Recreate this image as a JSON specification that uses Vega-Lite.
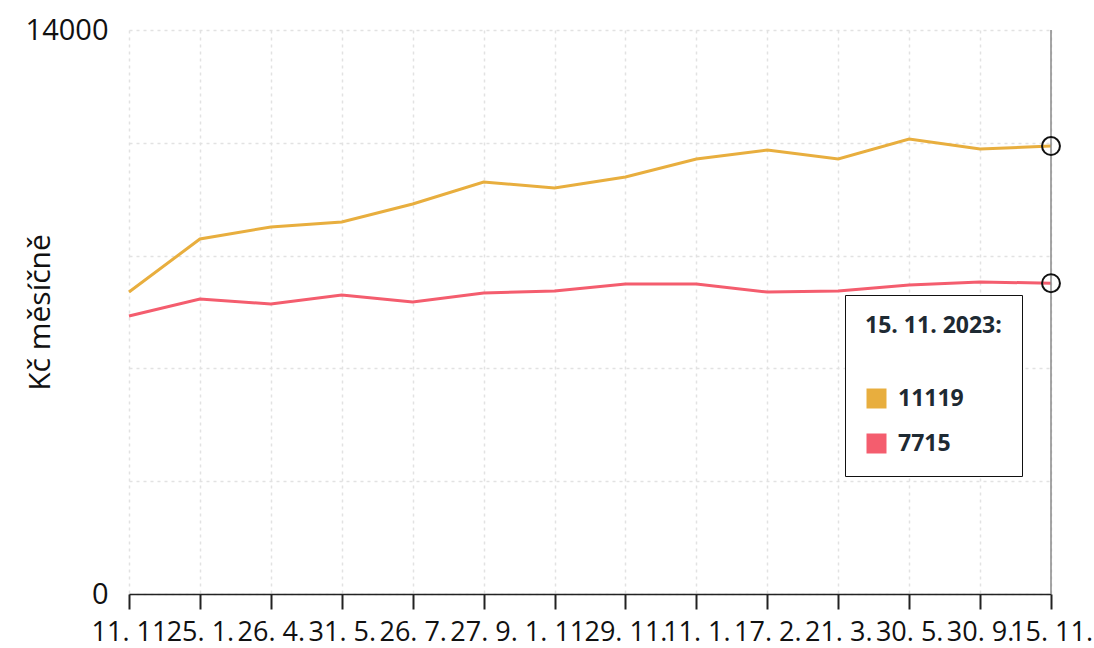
{
  "$schema": "https://vega.github.io/schema/vega-lite/v6.json",
  "autosize": "none",
  "width": 922,
  "height": 564,
  "padding": {"left": 129, "top": 30, "right": 43, "bottom": 54},
  "background": "white",
  "config": {"view": {"stroke": null}},
  "data": {
    "values": [
      {"datum": "11. 11", "serie": "11119", "kc": 7496},
      {"datum": "25. 1.", "serie": "11119", "kc": 8812},
      {"datum": "26. 4.", "serie": "11119", "kc": 9110},
      {"datum": "31. 5.", "serie": "11119", "kc": 9234},
      {"datum": "26. 7.", "serie": "11119", "kc": 9681},
      {"datum": "27. 9.", "serie": "11119", "kc": 10227},
      {"datum": "1. 11", "serie": "11119", "kc": 10078},
      {"datum": "29. 11.", "serie": "11119", "kc": 10351},
      {"datum": "11. 1.", "serie": "11119", "kc": 10798},
      {"datum": "17. 2.", "serie": "11119", "kc": 11021},
      {"datum": "21. 3.", "serie": "11119", "kc": 10798},
      {"datum": "30. 5.", "serie": "11119", "kc": 11294},
      {"datum": "30. 9.", "serie": "11119", "kc": 11046},
      {"datum": "15. 11.", "serie": "11119", "kc": 11119},
      {"datum": "11. 11", "serie": "7715", "kc": 6900},
      {"datum": "25. 1.", "serie": "7715", "kc": 7322},
      {"datum": "26. 4.", "serie": "7715", "kc": 7198},
      {"datum": "31. 5.", "serie": "7715", "kc": 7421},
      {"datum": "26. 7.", "serie": "7715", "kc": 7247},
      {"datum": "27. 9.", "serie": "7715", "kc": 7471},
      {"datum": "1. 11", "serie": "7715", "kc": 7520},
      {"datum": "29. 11.", "serie": "7715", "kc": 7694},
      {"datum": "11. 1.", "serie": "7715", "kc": 7694},
      {"datum": "17. 2.", "serie": "7715", "kc": 7496},
      {"datum": "21. 3.", "serie": "7715", "kc": 7520},
      {"datum": "30. 5.", "serie": "7715", "kc": 7669},
      {"datum": "30. 9.", "serie": "7715", "kc": 7744},
      {"datum": "15. 11.", "serie": "7715", "kc": 7715}
    ]
  },
  "encoding": {
    "x": {
      "field": "datum",
      "type": "ordinal",
      "sort": null,
      "scale": {
        "type": "point",
        "padding": 0,
        "domain": ["11. 11", "25. 1.", "26. 4.", "31. 5.", "26. 7.", "27. 9.", "1. 11", "29. 11.", "11. 1.", "17. 2.", "21. 3.", "30. 5.", "30. 9.", "15. 11."]
      },
      "axis": {
        "title": null,
        "labelAngle": 0,
        "labelOverlap": false,
        "labelFont": "Open Sans",
        "labelFontSize": 27,
        "labelColor": "#111",
        "labelPadding": 10,
        "tickSize": 15,
        "tickColor": "#222",
        "tickWidth": 2,
        "domainColor": "#222",
        "domainWidth": 1.5,
        "grid": true,
        "gridColor": "#e2e2e2",
        "gridDash": [3, 4],
        "gridWidth": 1.5
      }
    },
    "y": {
      "field": "kc",
      "type": "quantitative",
      "scale": {"domain": [0, 14000], "nice": false},
      "axis": {
        "title": "Kč měsíčně",
        "titleFont": "Open Sans",
        "titleFontSize": 30,
        "titleFontWeight": "normal",
        "titleColor": "#111",
        "titleAngle": -90,
        "titleX": -89,
        "titleY": 282,
        "titleAlign": "center",
        "titleBaseline": "middle",
        "values": [0, 2800, 5600, 8400, 11200, 14000],
        "labelExpr": "datum.value == 0 || datum.value == 14000 ? format(datum.value, 'd') : ''",
        "labelFont": "Open Sans",
        "labelFontSize": 29,
        "labelColor": "#111",
        "labelPadding": 21,
        "ticks": false,
        "domain": false,
        "grid": true,
        "gridColor": "#e2e2e2",
        "gridDash": [3, 4],
        "gridWidth": 1.5
      }
    }
  },
  "layer": [
    {
      "mark": {"type": "line", "strokeWidth": 3},
      "encoding": {
        "color": {
          "field": "serie",
          "type": "nominal",
          "sort": ["11119", "7715"],
          "scale": {"domain": ["11119", "7715"], "range": ["#E8AE3E", "#F45D6E"]},
          "legend": {
            "orient": "none",
            "legendX": 716,
            "legendY": 265,
            "title": "15. 11. 2023:",
            "titleFont": "Open Sans",
            "titleFontSize": 23,
            "titleFontWeight": "bold",
            "titleColor": "#1e2a33",
            "titlePadding": 49,
            "padding": 20,
            "strokeColor": "#111",
            "fillColor": "white",
            "symbolType": "square",
            "symbolSize": 400,
            "symbolStrokeWidth": 0,
            "labelFont": "Open Sans",
            "labelFontSize": 23,
            "labelFontWeight": "bold",
            "labelColor": "#1e2a33",
            "labelOffset": 10,
            "rowPadding": 21,
            "encode": {
              "symbols": {"update": {"fill": {"scale": "color", "field": "value"}, "stroke": {"value": "transparent"}}}
            }
          }
        }
      }
    },
    {
      "transform": [{"filter": "datum.datum == '15. 11.' && datum.serie == '11119'"}],
      "mark": {"type": "rule", "color": "#888", "strokeWidth": 1.5},
      "encoding": {"y": {"value": 0}, "y2": {"value": 564}}
    },
    {
      "transform": [{"filter": "datum.datum == '15. 11.'"}],
      "mark": {"type": "point", "filled": false, "stroke": "#111", "strokeWidth": 2, "size": 320, "opacity": 1}
    }
  ]
}
